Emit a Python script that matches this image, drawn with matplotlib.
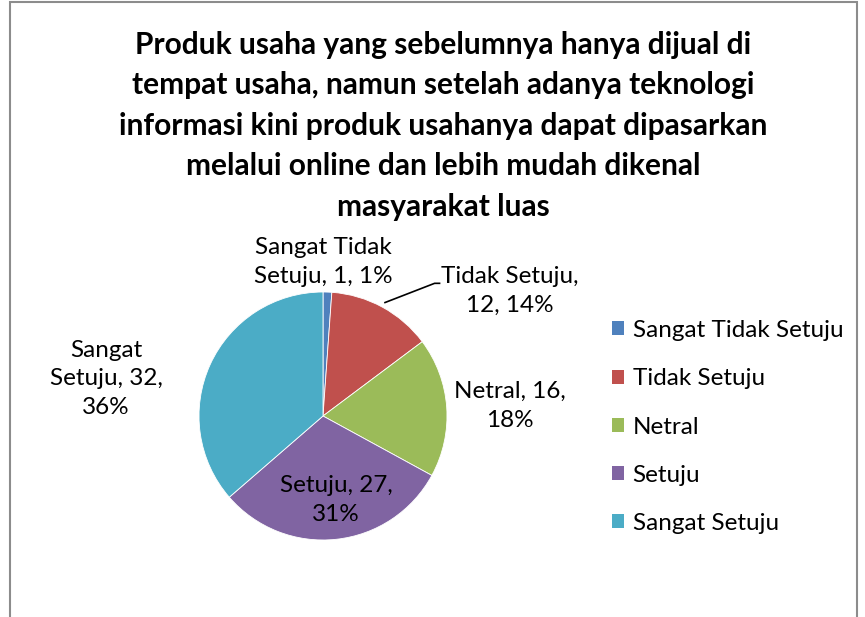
import matplotlib.pyplot as plt
from matplotlib.patches import Rectangle

categories = ['Sangat Tidak Setuju', 'Tidak Setuju', 'Netral', 'Setuju', 'Sangat Setuju']
values = [1, 12, 16, 27, 32]
colors = ['#4F81BD', '#C0504D', '#9BBB59', '#8064A2', '#4BACC6']

plt.rcParams['font.family'] = ['Lato', 'DejaVu Sans']

fig = plt.figure(figsize=(8.65, 6.17), dpi=100)
W, H = 865, 617

# chart border (bottom edge is cut off in the reference)
fig.patches.append(Rectangle((10 / W, -0.1), 847 / W, 1.1 - 2 / H, transform=fig.transFigure,
                             fill=False, edgecolor='#8c8c8c', linewidth=1.5))

title = ('Produk usaha yang sebelumnya hanya dijual di\n'
         'tempat usaha, namun setelah adanya teknologi\n'
         'informasi kini produk usahanya dapat dipasarkan\n'
         'melalui online dan lebih mudah dikenal\n'
         'masyarakat luas')
fig.text(443 / W, 1 - 31 / H, title, ha='center', va='top', fontsize=21.5, fontweight='bold',
         linespacing=1.54)

# pie axes: centre (323, 416), radius 124 px
cx, cy, r = 323, 416, 124
ax = fig.add_axes([(cx - r) / W, 1 - (cy + r) / H, 2 * r / W, 2 * r / H])
wedges, _ = ax.pie(values, colors=colors, startangle=90, counterclock=False, radius=1,
                   wedgeprops=dict(linewidth=0.6, edgecolor='white'))
ax.set_xlim(-1, 1)
ax.set_ylim(-1, 1)
ax.set_aspect('equal')
ax.axis('off')

total = sum(values)
pcts = [round(100 * v / total) for v in values]
texts = [
    f'Sangat Tidak\nSetuju, {values[0]}, {pcts[0]}%',
    f'Tidak Setuju,\n{values[1]}, {pcts[1]}%',
    f'Netral, {values[2]},\n{pcts[2]}%',
    f'Setuju, {values[3]},\n{pcts[3]}%',
    f'Sangat\nSetuju, {values[4]},\n{pcts[4]}%',
]

label_pos = [(0.0, 1.24), (1.51, 1.01), (1.51, 0.08), (0.105, -0.68), (-1.75, 0.30)]
for t, (x, y) in zip(texts, label_pos):
    ax.text(x, y, t, ha='center', va='center', fontsize=17.5, linespacing=1.45, clip_on=False)

# leader line for Tidak Setuju
ax.plot([0.50, 0.90, 0.94], [0.915, 1.07, 1.07], color='black', linewidth=1.2, clip_on=False)

handles = [Rectangle((0, 0), 1, 1, facecolor=c) for c in colors]
fig.legend(handles, categories, loc='center left', bbox_to_anchor=(612 / W, 1 - 427 / H),
           frameon=False, fontsize=17.5, handlelength=0.5, handleheight=0.5, handletextpad=0.35,
           labelspacing=1.12, borderpad=0, borderaxespad=0)

fig.savefig('out.png', dpi=100)
